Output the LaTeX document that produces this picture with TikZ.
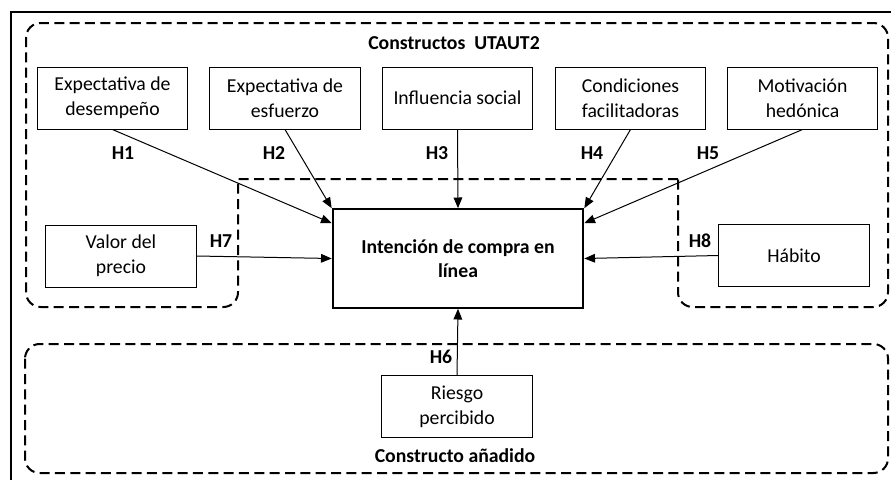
\documentclass[tikz,border=0pt]{standalone}
\usepackage{fontspec}
\setmainfont{Carlito}
\usepackage{tikz}
\usetikzlibrary{arrows.meta}
\tikzset{
	cbox/.style={draw,line width=0.75pt,align=center,minimum width=113pt,minimum height=46.5pt,inner sep=0pt,font=\fontsize{14.8}{19}\selectfont},
	region/.style={dashed,dash pattern=on 7.5pt off 4pt,line width=1.5pt},
	hyp/.style={font=\fontsize{14.8}{18}\selectfont\bfseries,inner sep=0pt},
	link/.style={line width=0.75pt,-{Triangle[length=8pt,width=6.5pt]}}
}
\newcommand{\hlabel}[3]{\node[hyp](#1) at (#2) {#3};}

\begin{document}
\begin{tikzpicture}[x=0.75pt,y=-0.75pt]
	\useasboundingbox (0,0) rectangle (891,479);
	\draw[line width=1.5pt] (11,12) rectangle (900,490);

	% dashed groups
	\draw[region] (678,179) -- (238,179) [rounded corners=11pt] -- (238,307) -- (26,307) -- (26,23) -- (888,23) -- (888,307) -- (678,307) -- (678,179);
	\draw[region,rounded corners=11pt] (25,344) rectangle (888,473);
	\node[hyp](utaut) at (454,43) {Constructos\ \ UTAUT2};
	\node[hyp](added) at (455,456) {Constructo añadido};

	\node[cbox](ed) at (112.5,98) {Expectativa de\\desempeño};
	\node[cbox](ee) at (285,98) {Expectativa de\\esfuerzo};
	\node[cbox](is) at (457.5,98) {Influencia social};
	\node[cbox](cf) at (630.5,98) {Condiciones\\facilitadoras};
	\node[cbox](mh) at (802.5,98) {Motivación\\hedónica};
	\node[cbox](vp) at (121,256) {Valor del\\precio};
	\node[cbox](hab) at (794,255.5) {Hábito};
	\node[cbox](rp) at (457,406.5) {Riesgo\\percibido};
	\node[cbox,line width=1.5pt,minimum width=188pt,minimum height=74pt,font=\fontsize{14.8}{18.5}\selectfont\bfseries](ic) at (458,258.5) {Intención de compra en\\línea};

	\hlabel{h1}{123,153}{H1}
	\hlabel{h2}{274,153}{H2}
	\hlabel{h3}{437,153}{H3}
	\hlabel{h4}{592,153}{H4}
	\hlabel{h5}{708,153}{H5}
	\hlabel{h6}{441,357}{H6}
	\hlabel{h7}{221,241}{H7}
	\hlabel{h8}{700,241}{H8}

	\draw[link] (ed.south) to ([yshift=-11.25pt]ic.north west);
	\draw[link] (ee.south) to (ic.north west);
	\draw[link] (is.south) to (ic.north);
	\draw[link] (cf.south) to (ic.north east);
	\draw[link] (mh.south) to ([yshift=-11.25pt]ic.north east);
	\draw[link] (vp.east) to (ic.west);
	\draw[link] (hab.west) to (ic.east);
	\draw[link] (rp.north) to (ic.south);
\end{tikzpicture}
\end{document}
